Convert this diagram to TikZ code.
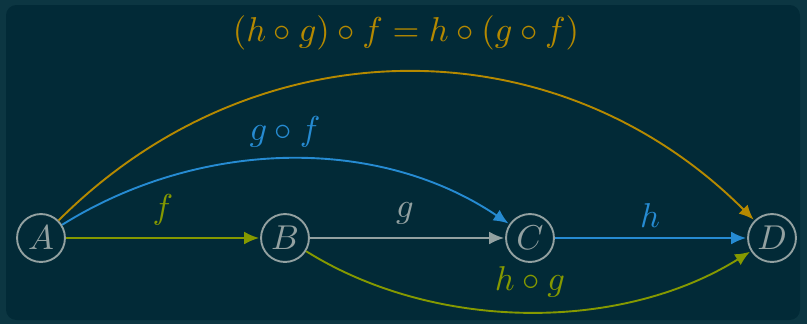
\documentclass[tikz,border=0pt]{standalone}
\usetikzlibrary{arrows.meta}
\definecolor{bgouter}{RGB}{12,54,66}
\definecolor{bginner}{RGB}{2,42,55}
\definecolor{sgray}{HTML}{93A1A1}
\definecolor{syellow}{HTML}{B58900}
\definecolor{sblue}{HTML}{268BD2}
\definecolor{sgreen}{HTML}{859900}
\tikzset{
  obj/.style={circle, draw=sgray, line width=0.55pt, text=sgray, minimum size=13.9pt, inner sep=0pt},
  arr/.style={line width=0.55pt, -{Latex[length=4.3pt,width=3.7pt]}, shorten >=0.3pt},
  lbl/.style={inner sep=0pt}
}
\begin{document}
\begin{tikzpicture}[x=0.29pt,y=0.29pt]
\useasboundingbox (0,0) rectangle (807,324);
\fill[bgouter] (0,0) rectangle (807,324);
\fill[bginner, rounded corners=3pt] (6,4) rectangle (800,319);
% nodes
\node[obj] (A) at (41,86) {$A$};
\node[obj] (B) at (285,86) {$B$};
\node[obj] (C) at (530,86) {$C$};
\node[obj] (D) at (772,86) {$D$};
% arrows
\draw[arr, sgreen] (A) -- (B);
\draw[arr, sgray] (B) -- (C);
\draw[arr, sblue] (C) -- (D);
\draw[arr, syellow] (A) to[out=45,in=135,looseness=1.03] (D);
\draw[arr, sblue] (A) to[out=32,in=146,looseness=0.92] (C);
\draw[arr, sgreen] (B) to[out=-32,in=-148,looseness=0.88] (D);
% labels
\node[lbl, text=sgreen] (lf) at (163,114) {$f$};
\node[lbl, text=sgray] (lg) at (405,111) {$g$};
\node[lbl, text=sblue] (lh) at (650,108) {$h$};
\node[lbl, text=sblue] (lgf) at (285,192) {$g\circ f$};
\node[lbl, text=sgreen] (lhg) at (530,42) {$h\circ g$};
\node[lbl, text=syellow] (ltop) at (406,291) {$(h\circ g)\circ f = h\circ(g\circ f)$};
\end{tikzpicture}
\end{document}
